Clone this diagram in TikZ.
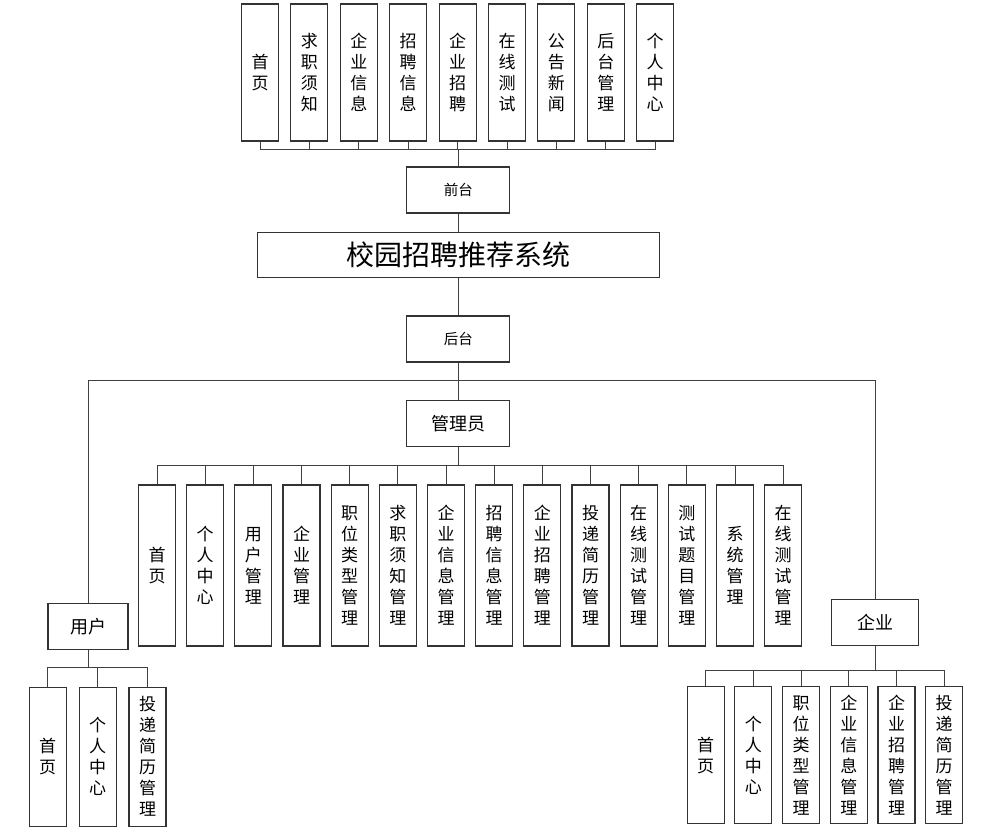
\documentclass[tikz,border=0pt]{standalone}
\usepackage{fontspec}
\setmainfont{Noto Sans CJK SC}
\usetikzlibrary{positioning,calc}

\tikzset{
  box/.style={draw=black!80,line width=1.1pt,inner sep=0pt,align=center},
  vbox/.style={box,minimum width=37pt,font=\fontsize{17}{21}\selectfont},
  hbox/.style={box,minimum width=103pt,minimum height=46pt},
  link/.style={draw=black!75,line width=1pt},
}

\begin{document}
\begin{tikzpicture}[x=1pt,y=-1pt]
  \useasboundingbox (0,0) rectangle (1002,836);
  % middle column
  \node[box,minimum width=402pt,minimum height=45pt,font=\fontsize{28}{30}\selectfont] (sys) at (458.3,255) {校园招聘推荐系统};
  \node[hbox,font=\fontsize{14.5}{16}\selectfont] (front) at (458.3,190) {前台};
  \node[hbox,font=\fontsize{14.5}{16}\selectfont] (back) at (458.3,339) {后台};
  \node[hbox,font=\fontsize{18}{20}\selectfont] (admin) at (458.3,423.5) {管理员};
  \node[box,minimum width=80pt,minimum height=46pt,font=\fontsize{18}{20}\selectfont] (user) at (88,626.3) {用户};
  \node[box,minimum width=87pt,minimum height=46pt,font=\fontsize{18}{20}\selectfont] (corp) at (875,622.5) {企业};
  \draw[link] (front) -- (sys);
  \draw[link] (sys) -- (back);
  \draw[link] (back) -- (admin);
  \coordinate (split) at (458.3,380);
  \draw[link] (split) -| (user.north);
  \draw[link] (split) -| (corp.north);

  % front modules
  \foreach \lab [count=\i] in {{首\\页},{求\\职\\须\\知},{企\\业\\信\\息},{招\\聘\\信\\息},{企\\业\\招\\聘},{在\\线\\测\\试},{公\\告\\新\\闻},{后\\台\\管\\理},{个\\人\\中\\心}} {
    \node[vbox,minimum height=137pt] (t\i) at ({260+49.4*(\i-1)},72.5) {\lab};
    \draw[link] (front.north) -- ++(0,-17) -| (t\i.south);
  }

  % admin modules
  \foreach \lab [count=\i] in {{首\\页},{个\\人\\中\\心},{用\\户\\管\\理},{企\\业\\管\\理},{职\\位\\类\\型\\管\\理},{求\\职\\须\\知\\管\\理},{企\\业\\信\\息\\管\\理},{招\\聘\\信\\息\\管\\理},{企\\业\\招\\聘\\管\\理},{投\\递\\简\\历\\管\\理},{在\\线\\测\\试\\管\\理},{测\\试\\题\\目\\管\\理},{系\\统\\管\\理},{在\\线\\测\\试\\管\\理}} {
    \node[vbox,minimum height=161pt] (a\i) at ({157+48.17*(\i-1)},565.5) {\lab};
    \draw[link] (admin.south) -- ++(0,18) -| (a\i.north);
  }

  % user modules
  \foreach \lab [count=\i] in {{首\\页},{个\\人\\中\\心},{投\\递\\简\\历\\管\\理}} {
    \node[vbox,minimum height=139pt] (u\i) at ({47.7+49.9*(\i-1)},756.6) {\lab};
    \draw[link] (user.south) -- ++(0,18) -| (u\i.north);
  }

  % enterprise modules
  \foreach \lab [count=\i] in {{首\\页},{个\\人\\中\\心},{职\\位\\类\\型\\管\\理},{企\\业\\信\\息\\管\\理},{企\\业\\招\\聘\\管\\理},{投\\递\\简\\历\\管\\理}} {
    \node[vbox,minimum height=137pt] (e\i) at ({705.7+47.7*(\i-1)},755.3) {\lab};
    \draw[link] (corp.south) -- ++(0,24) -| (e\i.north);
  }
\end{tikzpicture}
\end{document}
